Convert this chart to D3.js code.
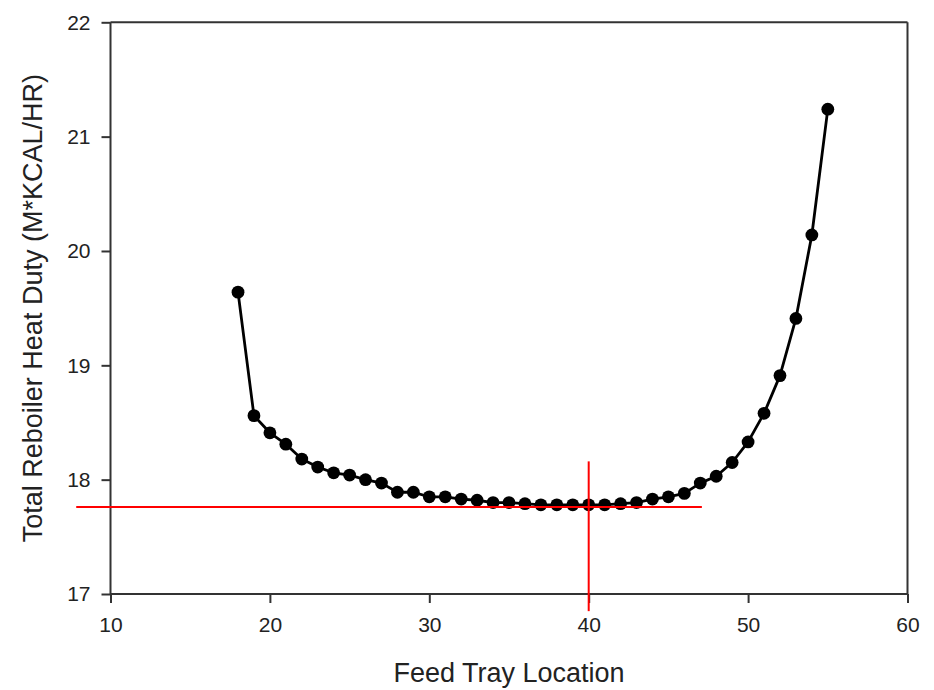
<!DOCTYPE html>
<html>
<head>
<meta charset="utf-8">
<script src="https://cdn.jsdelivr.net/npm/d3@7"></script>
<style>
  html, body { margin: 0; padding: 0; background: #fff; }
  svg { display: block; }
</style>
</head>
<body>
<svg id="chart" width="934" height="690"></svg>
<script>
// ---- data ----
const trays = [18,19,20,21,22,23,24,25,26,27,28,29,30,31,32,33,34,35,36,37,38,39,40,41,42,43,44,45,46,47,48,49,50,51,52,53,54,55];
const duty  = [19.64,18.56,18.41,18.31,18.18,18.11,18.06,18.04,18.00,17.97,17.89,17.89,17.85,17.85,17.83,17.82,17.80,17.80,17.79,17.78,17.78,17.78,17.78,17.78,17.79,17.80,17.83,17.85,17.88,17.97,18.03,18.15,18.33,18.58,18.91,19.41,20.14,21.24];
const xTicks = [10,20,30,40,50,60];
const yTicks = [17,18,19,20,21,22];
const xDomain = [10,60];
const yDomain = [17,22];
// reference lines (red)
const hLine = {y: 17.76, x0: 7.85, x1: 47.1};
const vLine = {x: 40, y0: 16.85, y1: 18.16};

const xTitle = "Feed Tray Location";
const yTitle = "Total Reboiler Heat Duty (M*KCAL/HR)";

// ---- layout ----
const mLeft = 110.5, mRight = 907.5, mTop = 22.3, mBottom = 594;
const svg = d3.select("#chart");
const x = d3.scaleLinear().domain(xDomain).range([mLeft, mRight]);
const y = d3.scaleLinear().domain(yDomain).range([mBottom, mTop]);
const axisColor = "#333";
const font = "'Liberation Sans', Arial, sans-serif";

// frame top & right
svg.append("line").attr("x1", mLeft).attr("x2", mRight).attr("y1", mTop).attr("y2", mTop)
  .attr("stroke", axisColor).attr("stroke-width", 2);
svg.append("line").attr("x1", mRight).attr("x2", mRight).attr("y1", mTop).attr("y2", mBottom)
  .attr("stroke", axisColor).attr("stroke-width", 2);

// axes
const gx = svg.append("g").attr("transform", `translate(0,${mBottom})`)
  .call(d3.axisBottom(x).tickValues(xTicks).tickSize(9).tickPadding(14).tickFormat(d3.format("d")));
const gy = svg.append("g").attr("transform", `translate(${mLeft},0)`)
  .call(d3.axisLeft(y).tickValues(yTicks).tickSize(9).tickPadding(11).tickFormat(d3.format("d")));
[gx, gy].forEach(g => {
  g.select(".domain").attr("stroke", axisColor).attr("stroke-width", 2);
  g.selectAll(".tick line").attr("stroke", axisColor).attr("stroke-width", 2);
  g.selectAll(".tick text").attr("fill", "#222").style("font-family", font).style("font-size", "21px");
});
gy.select(".domain").attr("d", `M0,${mBottom}V${mTop}`);
gx.select(".domain").attr("d", `M${mLeft},0H${mRight}`);

// data line
const line = d3.line().x((d, i) => x(trays[i])).y(d => y(d));
svg.append("path").datum(duty).attr("d", line)
  .attr("fill", "none").attr("stroke", "#000").attr("stroke-width", 2.8).attr("stroke-linejoin", "round");

// markers
svg.append("g").selectAll("circle").data(duty).join("circle")
  .attr("cx", (d, i) => x(trays[i])).attr("cy", d => y(d)).attr("r", 6.4).attr("fill", "#000");

// red reference lines
svg.append("line").attr("x1", x(hLine.x0)).attr("x2", x(hLine.x1))
  .attr("y1", y(hLine.y)).attr("y2", y(hLine.y)).attr("stroke", "#ff0000").attr("stroke-width", 2);
svg.append("line").attr("x1", x(vLine.x)).attr("x2", x(vLine.x))
  .attr("y1", y(vLine.y0)).attr("y2", y(vLine.y1)).attr("stroke", "#ff0000").attr("stroke-width", 2);

// titles
svg.append("text").attr("x", (mLeft + mRight) / 2).attr("y", 682).attr("text-anchor", "middle")
  .attr("fill", "#222").style("font-family", font).style("font-size", "27px").text(xTitle);
svg.append("text").attr("transform", `translate(42,${(mTop + mBottom) / 2}) rotate(-90)`)
  .attr("text-anchor", "middle").attr("fill", "#222").style("font-family", font).style("font-size", "27px").text(yTitle);
</script>
</body>
</html>
